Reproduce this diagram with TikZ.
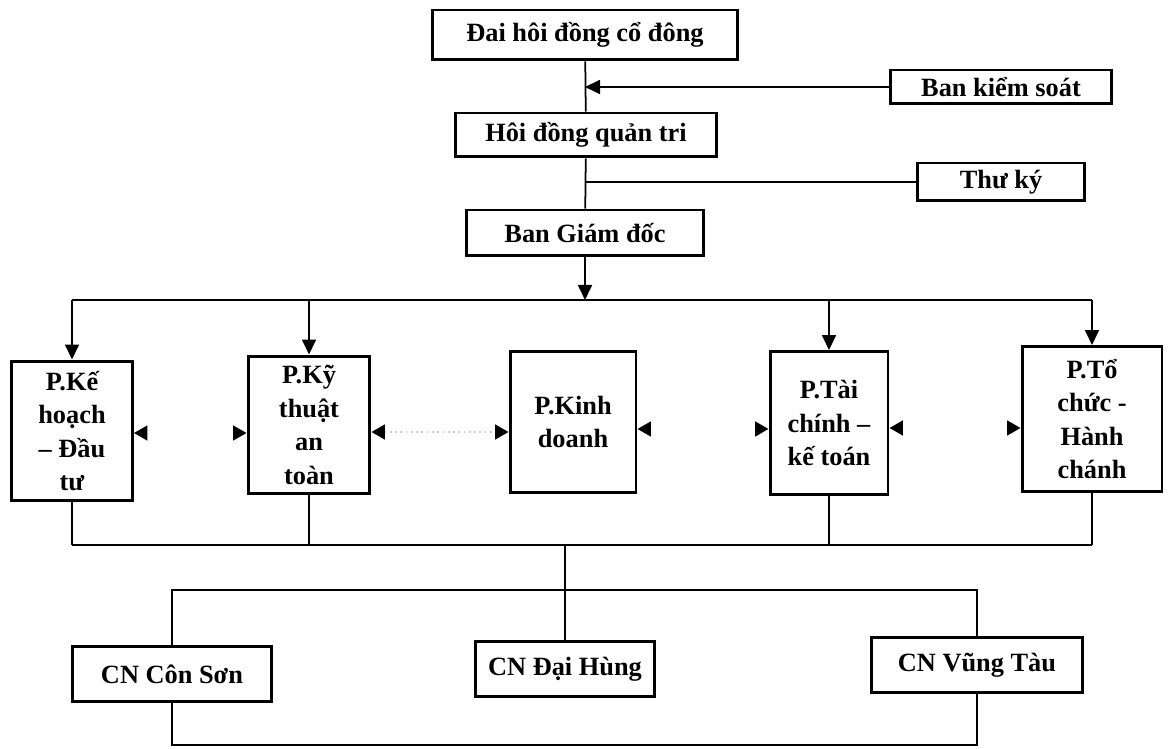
\documentclass[tikz,border=0pt]{standalone}
\usepackage{fontspec}
\setmainfont{Liberation Serif}
\usetikzlibrary{arrows.meta,calc}

\begin{document}
\begin{tikzpicture}[x=0.02cm, y=-0.02cm, font=\fontsize{15}{19}\selectfont\bfseries,
  >={Triangle[length=3mm,width=2.8mm]},
  box/.style={draw, line width=1.7pt, align=center, inner sep=2pt},
  ln/.style={line width=1pt},
  side/.style={white, line width=1pt, {Triangle[black,length=2.7mm,width=3mm]}-{Triangle[black,length=2.7mm,width=3mm]}}]
\useasboundingbox (0,0) rectangle (1170,749);
\node[box, minimum width=6.1cm, minimum height=1.0cm] (dhcd) at (585,35) {Đai hôi đồng cổ đông};
\node[box, minimum width=4.44cm, minimum height=0.68cm] (bks) at (1001,87) {Ban kiểm soát};
\node[box, minimum width=5.24cm, minimum height=0.88cm] (hdqt) at (586,135) {Hôi đồng quản tri};
\node[box, minimum width=3.34cm, minimum height=0.76cm] (tk) at (1001,182) {Thư ký};
\node[box, minimum width=4.76cm, minimum height=0.92cm] (bgd) at (585,233) {Ban Giám đốc};
\node[box, minimum width=2.42cm, minimum height=2.8cm] (kh) at (72,431) {P.Kế\\hoạch\\– Đầu\\tư};
\node[box, minimum width=2.44cm, minimum height=2.76cm] (kt) at (309,425) {P.Kỹ\\thuật\\an\\toàn};
\node[box, minimum width=2.52cm, minimum height=2.82cm] (kd) at (573,422) {P.Kinh\\doanh};
\node[box, minimum width=2.36cm, minimum height=2.86cm] (tckt) at (829,423) {P.Tài\\chính –\\kế toán};
\node[box, minimum width=2.8cm, minimum height=2.9cm] (tchc) at (1092,419) {P.Tổ\\chức -\\Hành\\chánh};
\node[box, minimum width=4.0cm, minimum height=1.1cm] (cs) at (172,674) {CN Côn Sơn};
\node[box, minimum width=3.6cm, minimum height=1.1cm] (dh) at (565,669) {CN Đại Hùng};
\node[box, minimum width=4.22cm, minimum height=1.1cm] (vt) at (977,665) {CN Vũng Tàu};
\coordinate (busT) at (72,300);
\coordinate (busB) at (72,545);
\coordinate (brC) at (172,590);
\coordinate (btm) at (172,745);
\draw[ln] (dhcd) -- (hdqt);
\draw[ln,->] (bks) -- (bks -| dhcd);
\draw[ln] (hdqt) -- (bgd);
\draw[ln] (tk) -- (tk -| hdqt);
\draw[ln,->] (bgd) -- (bgd |- busT);
\draw[ln] (kh.north |- busT) -- (tchc.north |- busT);
\foreach \n in {kh,kt,tckt,tchc} \draw[ln,->] (\n.north |- busT) -- (\n.north);
\foreach \n in {kh,kt,tckt,tchc} \draw[ln] (\n.south) -- (\n.south |- busB);
\draw[ln] (kh.south |- busB) -- (tchc.south |- busB);
\draw[ln] (dh.north |- busB) -- (dh.north);
\draw[ln] (cs.north) -- (cs.north |- brC) -- (vt.north |- brC) -- (vt.north);
\draw[ln] (cs.south) -- (cs.south |- btm) -- (vt.south |- btm) -- (vt.south);
\draw[side] (kh.east |- 0,433) -- (kt.west |- 0,433);
\draw[side, draw=black!20, dotted] (kt.east |- 0,432) -- (kd.west |- 0,432);
\draw[side] (kd.east |- 0,429) -- (tckt.west |- 0,429);
\draw[side] (tckt.east |- 0,428) -- (tchc.west |- 0,428);
\end{tikzpicture}
\end{document}
